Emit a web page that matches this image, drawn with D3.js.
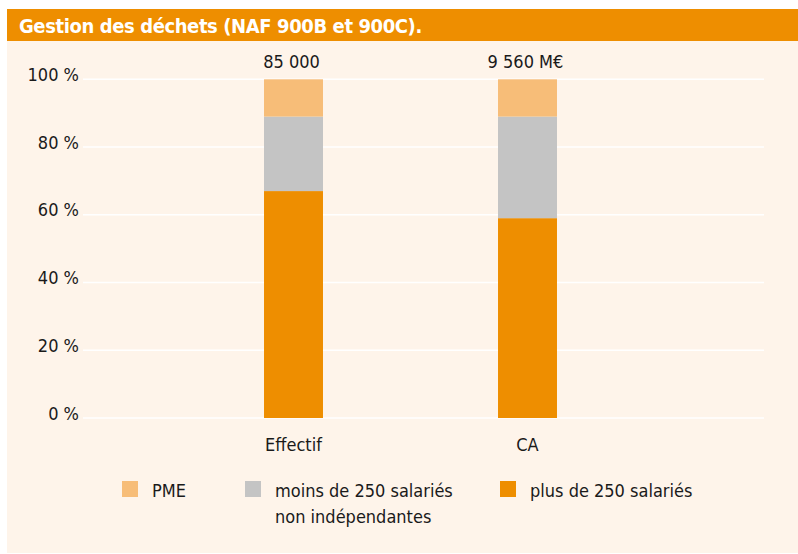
<!DOCTYPE html>
<html>
<head>
<meta charset="utf-8">
<script src="https://cdn.jsdelivr.net/npm/d3@7/dist/d3.min.js"></script>
<style>
  html, body { margin: 0; padding: 0; background: #ffffff; }
  svg text { font-family: "DejaVu Sans Condensed", "DejaVu Sans", sans-serif; fill: #1a1a1a; }
</style>
</head>
<body>
<svg id="chart" width="798" height="554"></svg>
<script>
// Répartition (%) par catégorie d'entreprise
const categories = ["Effectif", "CA"];
const totals = ["85 000", "9 560 M€"];
const seriesNames = ["plus de 250 salariés", "moins de 250 salariés non indépendantes", "PME"];
const plus250 = [67, 59];
const moins250 = [22, 30];
const pme = [11, 11];
const yTicks = [0, 20, 40, 60, 80, 100];
const legendLabels = [["PME"], ["moins de 250 salariés", "non indépendantes"], ["plus de 250 salariés"]];

const colors = {
  "plus de 250 salariés": "#ee8e00",
  "moins de 250 salariés non indépendantes": "#c4c4c4",
  "PME": "#f7bd78"
};

const svg = d3.select("#chart");

// fond et bandeau de titre
svg.append("rect").attr("x", 7).attr("y", 41).attr("width", 791).attr("height", 512).attr("fill", "#fef4ea");
svg.append("rect").attr("x", 7).attr("y", 9).attr("width", 791).attr("height", 32).attr("fill", "#ee8e00");
svg.append("text").attr("x", 19).attr("y", 33)
  .style("font-size", "20px").style("font-weight", "bold").style("fill", "#ffffff")
  .style("letter-spacing", "-0.4px")
  .text("Gestion des déchets (NAF 900B et 900C).");

const y = d3.scaleLinear().domain([0, 100]).range([418, 79.3]);
const x = d3.scaleBand().domain(categories).range([176.5, 644.5])
  .paddingInner(0.748).paddingOuter(0.374);

// grille
svg.append("g").selectAll("line").data(yTicks).join("line")
  .attr("x1", 83).attr("x2", 764)
  .attr("y1", d => y(d)).attr("y2", d => y(d))
  .attr("stroke", "#ffffff").attr("stroke-width", 1.5);

// axe des ordonnées
const yAxis = d3.axisLeft(y).tickValues(yTicks).tickSize(0).tickPadding(0)
  .tickFormat(d => d + " %");
const gy = svg.append("g").attr("transform", "translate(79,0)").call(yAxis);
gy.select(".domain").remove();
gy.selectAll("text").attr("dy", "1px").attr("dominant-baseline", "auto")
  .style("font-size", "18px").attr("fill", "#1a1a1a");

// barres empilées
const rows = categories.map((c, i) => ({
  cat: c,
  "plus de 250 salariés": plus250[i],
  "moins de 250 salariés non indépendantes": moins250[i],
  "PME": pme[i]
}));
const stacked = d3.stack().keys(seriesNames)(rows);
svg.append("g").selectAll("g").data(stacked).join("g")
  .attr("fill", s => colors[s.key])
  .selectAll("rect").data(s => s).join("rect")
  .attr("x", d => x(d.data.cat))
  .attr("width", x.bandwidth())
  .attr("y", d => y(d[1]))
  .attr("height", d => y(d[0]) - y(d[1]));

// totaux au-dessus des barres
svg.append("g").selectAll("text").data(categories).join("text")
  .attr("x", (c) => x(c) + x.bandwidth() / 2 - 2)
  .attr("y", 68)
  .attr("text-anchor", "middle")
  .style("font-size", "18px")
  .text((c, i) => totals[i]);

// axe des abscisses
const xAxis = d3.axisBottom(x).tickSize(0).tickPadding(0);
const gx = svg.append("g").attr("transform", "translate(0,438)").call(xAxis);
gx.select(".domain").remove();
gx.selectAll("text").attr("dy", "0.72em").style("font-size", "18px").attr("fill", "#1a1a1a");

// légende
const legendX = [122, 245, 500];
const legendColors = [colors["PME"], colors["moins de 250 salariés non indépendantes"], colors["plus de 250 salariés"]];
const lg = svg.append("g").selectAll("g").data(legendLabels).join("g")
  .attr("transform", (d, i) => `translate(${legendX[i]},481)`);
lg.append("rect").attr("width", 16).attr("height", 16).attr("fill", (d, i) => legendColors[i]);
lg.each(function(lines) {
  const t = d3.select(this).append("text").attr("x", 30).attr("y", 16).style("font-size", "18px");
  lines.forEach((l, k) => t.append("tspan").attr("x", 30).attr("dy", k === 0 ? 0 : 26).text(l));
});
</script>
</body>
</html>
